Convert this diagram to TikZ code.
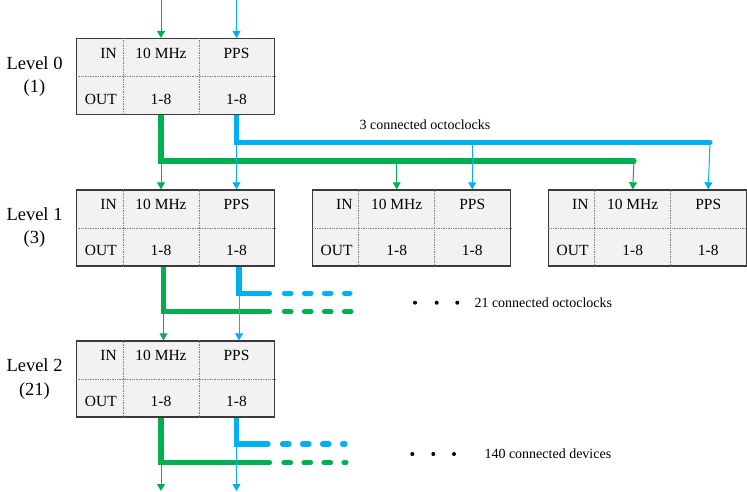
\documentclass[tikz,border=0pt]{standalone}
\usepackage{fontspec}
\setmainfont{Liberation Serif}
\usetikzlibrary{arrows.meta}
\pgfdeclarelayer{background}
\pgfsetlayers{background,main}
\definecolor{gr}{HTML}{00B050}
\definecolor{bl}{HTML}{00B0F0}
\definecolor{boxf}{HTML}{F2F2F2}
\definecolor{boxc}{HTML}{3A3A3A}
\definecolor{divc}{HTML}{808080}
\tikzset{
  obox/.style={draw=boxc, fill=boxf, line width=1.3pt, minimum width=198pt, minimum height=76pt, inner sep=0pt, anchor=north west},
  div/.style={draw=divc, densely dotted, line width=0.7pt},
  blbl/.style={font=\fontsize{15.5}{18}\selectfont, inner sep=0pt},
  levlbl/.style={font=\fontsize{18.5}{23.5}\selectfont, inner sep=0pt, align=center},
  note/.style={font=\fontsize{14}{16}\selectfont, inner sep=0pt, anchor=west},
  dotn/.style={circle, fill=black, inner sep=0pt, minimum size=4pt},
  thickline/.style={line width=5.2pt, line cap=round, line join=miter},
  thinarrow/.style={line width=1pt, -{Triangle[width=8pt,length=7pt]}},
  dashpart/.style={line width=5.2pt, line cap=round, dash pattern=on 6.5pt off 13.5pt},
}
\newcommand\octobox[3]{%
  \node[obox] (#1) at (#2,#3) {};
  \draw[div] ([xshift=47pt]#1.north west) -- ([xshift=47pt]#1.south west);
  \draw[div] ([xshift=123pt]#1.north west) -- ([xshift=123pt]#1.south west);
  \draw[div] (#1.west) -- (#1.east);
  \node[blbl, anchor=east] (#1-in) at ([xshift=41pt,yshift=-15pt]#1.north west) {IN};
  \node[blbl] (#1-mhz) at ([xshift=85pt,yshift=-15pt]#1.north west) {10 MHz};
  \node[blbl] (#1-pps) at ([xshift=160.5pt,yshift=-15pt]#1.north west) {PPS};
  \node[blbl, anchor=east] (#1-out) at ([xshift=41pt,yshift=-61pt]#1.north west) {OUT};
  \node[blbl] (#1-o1) at ([xshift=85pt,yshift=-61pt]#1.north west) {1-8};
  \node[blbl] (#1-o2) at ([xshift=160.5pt,yshift=-61pt]#1.north west) {1-8};
  \coordinate (#1-a) at ([xshift=85pt]#1.north west);
  \coordinate (#1-b) at ([xshift=160.5pt]#1.north west);
  \coordinate (#1-c) at ([xshift=85pt]#1.south west);
  \coordinate (#1-d) at ([xshift=160.5pt]#1.south west);
}
\begin{document}
\begin{tikzpicture}[x=1pt,y=-1pt]
\useasboundingbox (0,0) rectangle (747,492);
% boxes
\octobox{L0}{76}{38}
\octobox{L1a}{76}{189.3}
\octobox{L1b}{311.7}{189.3}
\octobox{L1c}{547.7}{189.3}
\octobox{L2}{76}{340.3}
% labels
\node[levlbl] (lev0) at (34.5,76.5) {Level 0\\(1)};
\node[levlbl] (lev1) at (34.5,227.5) {Level 1\\(3)};
\node[levlbl] (lev2) at (34.5,379) {Level 2\\(21)};
\node[font=\fontsize{14}{16}\selectfont, inner sep=0pt] (n3) at (425,124.5) {3 connected octoclocks};
\node[dotn] (d1) at (415,302.7) {};
\node[dotn] (d2) at (436.7,302.7) {};
\node[dotn] (d3) at (457.3,302.7) {};
\node[note] (n21) at (474.3,302.5) {21 connected octoclocks};
\node[dotn] (d4) at (412.3,454) {};
\node[dotn] (d5) at (433.3,454) {};
\node[dotn] (d6) at (454,454) {};
\node[note] (n140) at (484.3,454) {140 connected devices};
% helper coordinates
\coordinate (t0a) at (161,0);
\coordinate (t0b) at (236.5,0);
\coordinate (g0) at (161,161);
\coordinate (g0e) at (634,161);
\coordinate (b0) at (236.5,142.3);
\coordinate (b0e) at (710,142.3);
\coordinate (g1) at (163.5,311.7);
\coordinate (g1s) at (269.5,311.7);
\coordinate (g1d) at (284.5,311.7);
\coordinate (g1e) at (351,311.7);
\coordinate (b1) at (239,293.3);
\coordinate (b1s) at (269.5,293.3);
\coordinate (b1d) at (284.5,293.3);
\coordinate (b1e) at (350,293.3);
\coordinate (g2) at (161,462.7);
\coordinate (g2s) at (269.5,462.7);
\coordinate (g2d) at (284,462.7);
\coordinate (g2e) at (346,462.7);
\coordinate (b2) at (236.5,444);
\coordinate (b2s) at (268,444);
\coordinate (b2d) at (282.5,444);
\coordinate (b2e) at (345,444);
\coordinate (e2a) at (161,491);
\coordinate (e2b) at (236.5,491);
\begin{pgfonlayer}{background}
% inputs to level 0
\draw[gr, thinarrow] (t0a) -- (L0-a);
\draw[bl, thinarrow] (t0b) -- (L0-b);
% level 0 outputs
\draw[gr, thickline] (L0-c) -- (g0) -- (g0e);
\draw[bl, thickline] (L0-d) -- (b0) -- (b0e);
\draw[gr, thinarrow] (g0) -- (L1a-a);
\draw[bl, thinarrow] (b0) -- (L1a-b);
\draw[gr, thinarrow] (g0 -| L1b-a) -- (L1b-a);
\draw[bl, thinarrow] (b0 -| L1b-b) -- (L1b-b);
\draw[gr, thinarrow] (g0e) -- (L1c-a);
\draw[bl, thinarrow] (b0e) -- (L1c-b);
% level 1 outputs
\draw[gr, thickline] ([xshift=2.5pt]L1a-c) -- (g1) -- (g1s);
\draw[gr, dashpart] (g1d) -- (g1e);
\draw[bl, thickline] ([xshift=2.5pt]L1a-d) -- (b1) -- (b1s);
\draw[bl, dashpart] (b1d) -- (b1e);
\draw[gr, thinarrow] (g1) -- ([xshift=2.5pt]L2-a);
\draw[bl, thinarrow] (b1) -- ([xshift=2.5pt]L2-b);
% level 2 outputs
\draw[gr, thickline] (L2-c) -- (g2) -- (g2s);
\draw[gr, dashpart] (g2d) -- (g2e);
\draw[bl, thickline] (L2-d) -- (b2) -- (b2s);
\draw[bl, dashpart] (b2d) -- (b2e);
\draw[gr, thinarrow] (g2) -- (e2a);
\draw[bl, thinarrow] (b2) -- (e2b);
\end{pgfonlayer}
\end{tikzpicture}
\end{document}
